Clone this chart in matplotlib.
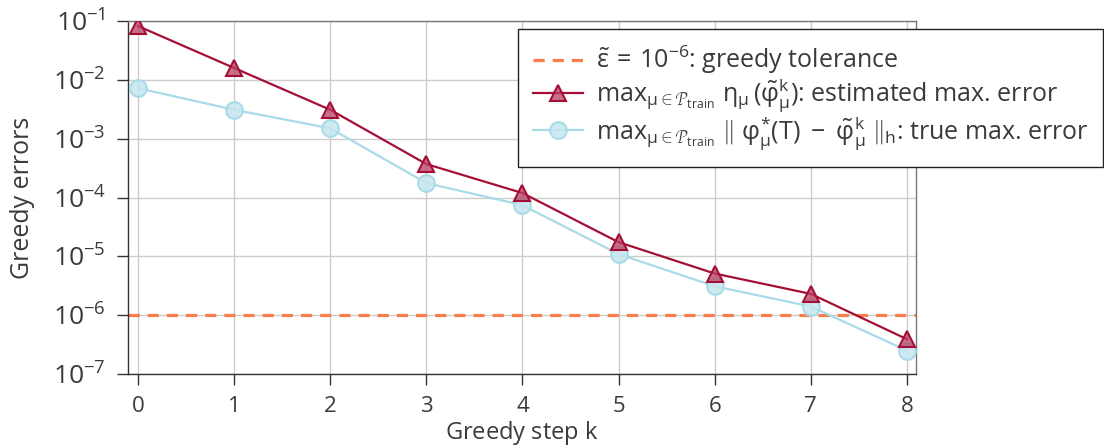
import matplotlib
matplotlib.use("Agg")
import matplotlib.pyplot as plt
from matplotlib.ticker import LogLocator, NullLocator, FixedLocator

plt.rcParams['font.family'] = ['Open Sans', 'DejaVu Sans']
plt.rcParams['mathtext.fontset'] = 'custom'
plt.rcParams['mathtext.rm'] = 'Open Sans'
plt.rcParams['mathtext.it'] = 'Open Sans'
plt.rcParams['mathtext.bf'] = 'Open Sans:bold'

steps = [0, 1, 2, 3, 4, 5, 6, 7, 8]
estimated = [8.2e-2, 1.59e-2, 3.1e-3, 3.7e-4, 1.19e-4, 1.74e-5, 5.1e-6, 2.3e-6, 3.9e-7]
true_err = [7.2e-3, 3.1e-3, 1.5e-3, 1.76e-4, 7.4e-5, 1.09e-5, 3.1e-6, 1.4e-6, 2.5e-7]
tolerance = 1e-6

lbl_tol = r'$\tilde{\varepsilon}\,=\,10^{-6}$: greedy tolerance'
lbl_est = r'$\mathrm{max}_{\mu\in\mathcal{P}_{\mathrm{train}}}\ \eta_{\mu}\,(\tilde{\varphi}_{\mu}^{k})$: estimated max. error'
lbl_true = r'$\mathrm{max}_{\mu\in\mathcal{P}_{\mathrm{train}}}\ \|\;\varphi_{\mu}^{*}(T)\;-\;\tilde{\varphi}_{\mu}^{k}\;\|_{h}$: true max. error'

text_color = '#3a3a3a'
red = '#a50f35'
blue = '#a8dbe8'
orange = '#fb7d4c'

fig = plt.figure(figsize=(11.04, 4.48), dpi=100)
ax = fig.add_axes([128/1104, 1-374/448, (916-128)/1104, (374-21)/448])

ax.axhline(tolerance, color=orange, lw=2.3, ls=(0, (3.5, 2.5)), label=lbl_tol, zorder=2)
ax.plot(steps, estimated, color=red, lw=1.6, marker='^', ms=11,
        mfc=(0.72, 0.25, 0.38, 0.75), mec=red, mew=1.5, label=lbl_est, zorder=4)
ax.plot(steps, true_err, color=blue, lw=1.6, marker='o', ms=12,
        mfc=(0.78, 0.90, 0.94, 0.85), mec=blue, mew=1.5, label=lbl_true, zorder=3)

ax.set_yscale('log')
ax.set_ylim(1e-7, 1e-1)
ax.set_xlim(-0.104, 8.094)
ax.yaxis.set_major_locator(LogLocator(base=10, numticks=20))
ax.yaxis.set_minor_locator(NullLocator())
ax.xaxis.set_major_locator(FixedLocator(steps))

ax.grid(True, color='#cccccc', lw=1.0, zorder=0)
ax.set_axisbelow(True)

for s in ['top', 'right']:
    ax.spines[s].set_color('#777777')
    ax.spines[s].set_linewidth(1.0)
for s in ['left', 'bottom']:
    ax.spines[s].set_color('#333333')
    ax.spines[s].set_linewidth(1.0)

ax.tick_params(axis='both', which='major', length=8, width=1.0, color='#333333',
               labelcolor=text_color, direction='out')
ax.tick_params(axis='x', labelsize=16, pad=8)
ax.tick_params(axis='y', labelsize=19, pad=8)

ax.set_xlabel(r'Greedy step $k$', fontsize=17, color=text_color)
ax.xaxis.set_label_coords(0.5, -0.128)
ax.set_ylabel('Greedy errors', fontsize=18, color=text_color)
ax.yaxis.set_label_coords(-0.1185, 0.5)

leg = ax.legend(loc='upper left', bbox_to_anchor=(518/1104, 1-29/448),
                bbox_transform=fig.transFigure, fontsize=18, frameon=True,
                fancybox=False, framealpha=1, edgecolor='#222222',
                handlelength=2.0, borderpad=0.6, labelspacing=0.0,
                borderaxespad=0, handletextpad=0.5)
leg.get_frame().set_linewidth(1.0)
for t in leg.get_texts():
    t.set_color(text_color)

fig.savefig('out.png', dpi=100)
